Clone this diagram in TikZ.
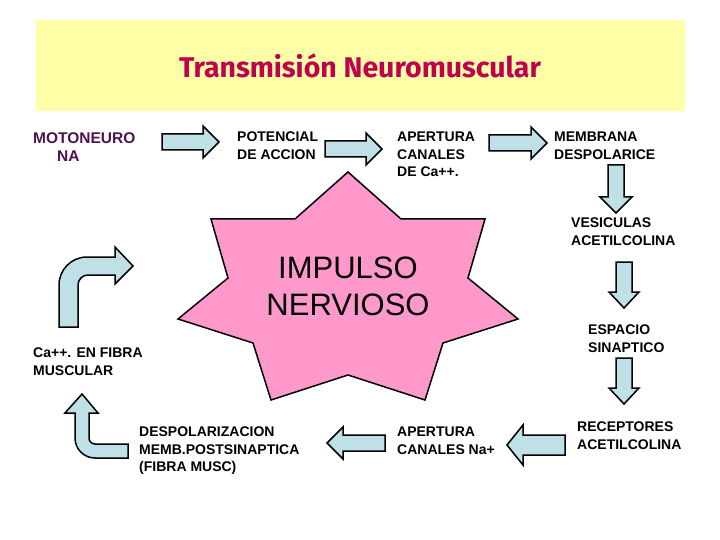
\documentclass[tikz,border=0pt]{standalone}
\usepackage{fontspec}
\setmainfont{Liberation Sans}
\newfontfamily\titlefont{Fira Sans}
\usepackage{tikz}
\definecolor{titlebg}{HTML}{FFFFA8}
\definecolor{titlered}{HTML}{C0004E}
\definecolor{arrowblue}{HTML}{BEE0E6}
\definecolor{starpink}{HTML}{FF99CC}
\definecolor{motopurple}{HTML}{4F124F}

\tikzset{
  blockarrow/.style={draw=black, fill=arrowblue, line width=1.5pt, line join=miter},
  lbl/.style={font=\bfseries\fontsize{14}{17.5}\selectfont, align=left, anchor=north west, inner sep=0pt},
}

\begin{document}
\begin{tikzpicture}[x=1pt, y=-1pt]
\useasboundingbox (0,0) rectangle (720,540);
% Title banner
\fill[titlebg] (36,20) rectangle (685,111);
\node[font=\titlefont\bfseries\fontsize{28.5}{32}\selectfont, text=titlered, anchor=base] (title) at (360,78) {Transmisión Neuromuscular};

% Central star
\draw[fill=starpink, line width=1.5pt, line join=miter]
  (348,172) -- (401,219) -- (485,219) -- (468,278) -- (518,319) -- (443,343) -- (425,400)
  -- (348,375) -- (271,400) -- (253,343) -- (178,319) -- (228,278) -- (211,219) -- (295,219) -- cycle;
\node[font=\fontsize{31}{37}\selectfont, align=center, inner sep=0pt] (impulso) at (348,286.5) {IMPULSO\\NERVIOSO};

% Labels
\node[lbl, font=\bfseries\fontsize{15.5}{18}\selectfont, text=motopurple] (motoneurona) at (33,132) {MOTONEURO\\\hspace{24pt}NA};
\node[lbl] (potencial) at (237,132) {POTENCIAL\\DE ACCION};
\node[lbl] (canalesca) at (397,132) {APERTURA\\CANALES\\DE Ca++.};
\node[lbl] (membrana) at (554,132) {MEMBRANA\\DESPOLARICE};
\node[lbl] (vesiculas) at (571,218) {VESICULAS\\ACETILCOLINA};
\node[lbl] (espacio) at (588,325) {ESPACIO\\SINAPTICO};
\node[lbl] (receptores) at (577,422) {RECEPTORES\\ACETILCOLINA};
\node[lbl] (canalesna) at (397,427) {APERTURA\\CANALES Na+};
\node[lbl] (despol) at (139,427) {DESPOLARIZACION\\MEMB.POSTSINAPTICA\\(FIBRA MUSC)};
\node[lbl] (calcio) at (33,348) {Ca++. EN FIBRA\\MUSCULAR};

% Straight block arrows: tail x / tail y / angle / length / shaft / head
\foreach \x/\y/\ang/\len/\sw/\hw in {
    162/142/0/57/8/16, 325/149/0/57/8/16, 489/143/0/58/8/16,
    616/165/-90/48/8/16, 624/262/-90/46/8/15, 624/358/-90/46/8/15,
    565/445/180/58/10/20, 385/443/180/58/8/16}{
  \draw[blockarrow, shift={(\x,\y)}, rotate=\ang]
    (0,-\sw) -- ({\len-16},-\sw) -- ({\len-16},-\hw) -- (\len,0)
    -- ({\len-16},\hw) -- ({\len-16},\sw) -- (0,\sw) -- cycle;
}

% Bent arrows on the left
\draw[blockarrow] (59,327) -- (59,285) arc (180:270:28) -- (115,257) -- (115,247) -- (133,266)
  -- (115,284) -- (115,275) -- (88,275) arc (270:180:10) -- (78,327) -- cycle;
\draw[blockarrow] (75,413) -- (75,438) arc (180:90:20) -- (128,458) -- (128,444) -- (95,444)
  arc (90:180:6) -- (89,413) -- (98,413) -- (82,394) -- (65,413) -- cycle;
\end{tikzpicture}
\end{document}
